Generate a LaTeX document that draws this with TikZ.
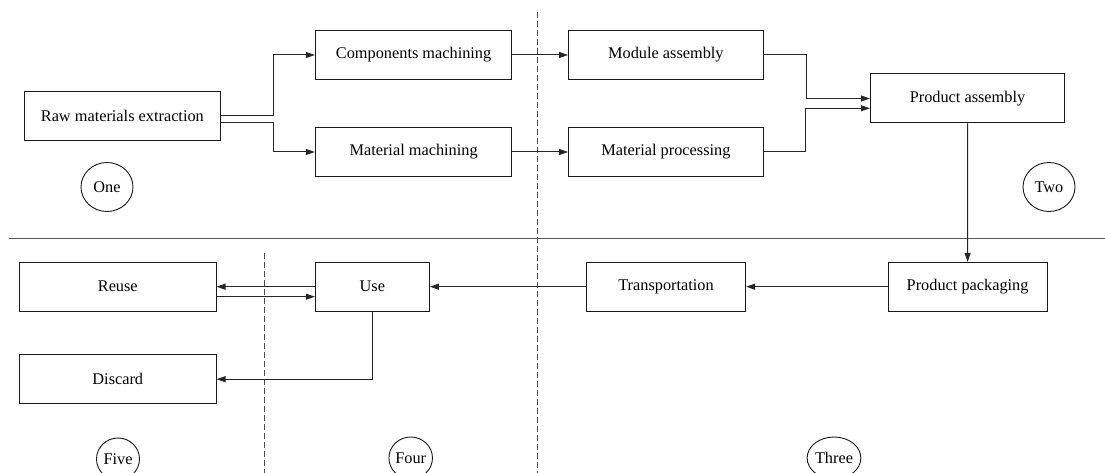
\documentclass[tikz,border=0pt]{standalone}
\usepackage{fontspec}
\setmainfont{Liberation Serif}
\usetikzlibrary{arrows.meta,shapes.geometric}
\begin{document}
\begin{tikzpicture}[x=1pt,y=-1pt,
  every node/.style={font=\fontsize{16.3}{18}\selectfont, text=black},
  box/.style={draw=black!90, line width=1pt, inner sep=0pt, minimum height=48.6pt, minimum width=196pt},
  lbl/.style={draw=black!90, line width=0.9pt, ellipse, inner sep=0pt},
  arr/.style={draw=black!85, line width=1pt, -{Triangle[length=9pt,width=6pt]}},
  sep/.style={draw=black!65, line width=1.1pt},
  dsep/.style={draw=black!70, line width=1pt, dash pattern=on 6pt off 3pt}]
\useasboundingbox (0,0) rectangle (1105,473);
% separators
\coordinate (hl) at (9,238.7);
\coordinate (hr) at (1105,238.7);
\draw[sep] (hl) -- (hr);
\coordinate (d1t) at (537.5,11.7);
\coordinate (d1b) at (537.5,473);
\draw[dsep] (d1t) -- (d1b);
\coordinate (d2t) at (264,253.3);
\coordinate (d2b) at (264,473);
\draw[dsep] (d2t) -- (d2b);
% boxes
\node[box] (raw) at (122.35,116) {Raw materials extraction};
\node[box, minimum width=196.4pt] (comp) at (413.6,55) {Components machining};
\node[box, minimum width=196.4pt] (matm) at (413.6,152) {Material machining};
\node[box, minimum width=194.6pt] (mod) at (665.9,55) {Module assembly};
\node[box, minimum width=194.6pt] (mproc) at (665.9,152) {Material processing};
\node[box, minimum width=194.2pt, minimum height=49pt] (passy) at (967.5,98.5) {Product assembly};
\node[box, minimum width=158.8pt] (ppack) at (967.6,286.7) {Product packaging};
\node[box, minimum width=159.3pt] (trans) at (666,286.7) {Transportation};
\node[box, minimum width=114pt] (use) at (372.4,286.7) {Use};
\node[box, minimum width=196.4pt] (reuse) at (117.8,286.7) {Reuse};
\node[box, minimum width=196.4pt] (disc) at (117.8,379.2) {Discard};
% stage labels
\node[lbl, minimum width=52pt, minimum height=49pt] (one) at (107,187) {One};
\node[lbl, minimum width=52pt, minimum height=49pt] (two) at (1049,187) {Two};
\node[lbl, minimum width=42pt, minimum height=42pt] (three) at (834,458) {Three};
\node[lbl, minimum width=43pt, minimum height=42pt] (four) at (410.7,458) {Four};
\node[lbl, minimum width=43pt, minimum height=42pt] (five) at (118,459) {Five};
% connectors
\draw[arr] (raw.east) -- ++(52.5,0) |- (comp.west);
\draw[arr] ([yshift=-7pt]raw.east) -- ++(52.5,0) |- (matm.west);
\draw[arr] (comp.east) -- (mod.west);
\draw[arr] (matm.east) -- (mproc.west);
\draw[arr] (mod.east) -- ++(42.5,0) |- (passy.west);
\draw[arr] (mproc.east) -- ++(41.4,0) |- ([yshift=-9.8pt]passy.west);
\draw[arr] (passy.south) -- (ppack.north);
\draw[arr] (ppack.west) -- (trans.east);
\draw[arr] (trans.west) -- (use.east);
\draw[arr] (use.west) -- (reuse.east);
\draw[arr] ([yshift=-10pt]reuse.east) -- ([yshift=-10pt]use.west);
\draw[arr] (use.south) |- (disc.east);
\end{tikzpicture}
\end{document}
